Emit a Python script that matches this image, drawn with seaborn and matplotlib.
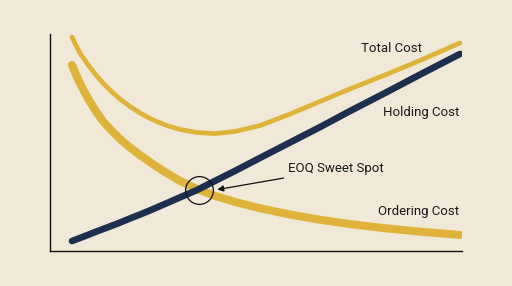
import matplotlib
matplotlib.use("Agg")
import matplotlib.pyplot as plt
import seaborn as sns

# Order quantity (arbitrary units, 0-100 scale)
quantity = [5.34, 6.31, 7.28, 8.50, 9.71, 11.17, 12.86, 14.81, 16.99, 19.42,
            21.84, 24.76, 27.91, 31.55, 35.68, 40.05, 44.90, 50.97, 58.25,
            65.53, 72.82, 81.31, 89.81, 99.51]
total_cost = [98.6, 94.7, 91.2, 87.8, 84.6, 81.1, 77.4, 73.7, 70.0, 66.6,
              63.6, 60.6, 58.1, 56.0, 54.6, 54.1, 55.1, 57.8, 63.1,
              68.9, 74.7, 81.1, 87.8, 95.9]
ordering_cost = [85.7, 81.3, 77.3, 72.8, 68.7, 64.3, 59.8, 55.8, 51.6, 47.7,
                 44.2, 40.3, 36.4, 32.3, 28.6, 25.4, 22.6, 19.7, 16.8,
                 14.4, 12.4, 10.5, 8.9, 7.4]
holding_cost = [4.6, 5.3, 6.0, 6.9, 7.8, 8.9, 10.1, 11.5, 13.1, 15.0,
                16.8, 19.1, 21.7, 24.7, 28.1, 32.3, 36.9, 42.9, 50.0,
                57.1, 64.5, 72.8, 81.3, 90.8]
eoq_point = (36.2, 28.1)

labels = ["Total Cost", "Holding Cost", "Ordering Cost"]
annotation = "EOQ Sweet Spot"

BG = "#F0E9D7"
GOLD = "#DFB23A"
NAVY = "#1C2F4F"
INK = "#1A1A1A"

sns.set_theme(style="white", rc={"figure.facecolor": BG, "axes.facecolor": BG})
plt.rcParams["font.family"] = ["Roboto", "DejaVu Sans"]

fig = plt.figure(figsize=(5.12, 2.86), dpi=100)
ax = fig.add_axes([50 / 512, 35 / 286, 412 / 512, 217 / 286])

sns.lineplot(x=quantity, y=total_cost, color=GOLD, linewidth=3.4, ax=ax,
             solid_capstyle="round", solid_joinstyle="round")
sns.lineplot(x=quantity, y=ordering_cost, color=GOLD, linewidth=5.8, ax=ax,
             solid_capstyle="round", solid_joinstyle="round")
sns.lineplot(x=quantity, y=holding_cost, color=NAVY, linewidth=4.8, ax=ax,
             solid_capstyle="round", solid_joinstyle="round")

ax.plot([eoq_point[0]], [eoq_point[1]], marker="o", markersize=20,
        markerfacecolor="none", markeredgecolor="#111111", markeredgewidth=0.9)

ax.annotate(annotation, xy=(40.6, 28.3), xytext=(57.8, 37.8),
            ha="left", va="center", fontsize=9.5, color=INK,
            arrowprops=dict(arrowstyle="-|>", color="#111111", lw=0.9,
                            shrinkA=1, shrinkB=0, mutation_scale=9))

ax.text(90.3, 93.5, labels[0], ha="right", va="center", fontsize=9.5, color=INK)
ax.text(99.3, 63.6, labels[1], ha="right", va="center", fontsize=9.5, color=INK)
ax.text(99.3, 18.4, labels[2], ha="right", va="center", fontsize=9.5, color=INK)

ax.set_xlim(0, 100)
ax.set_ylim(0, 100)
ax.set_xticks([])
ax.set_yticks([])
ax.set_xlabel("")
ax.set_ylabel("")
for side in ["top", "right"]:
    ax.spines[side].set_visible(False)
for side in ["left", "bottom"]:
    ax.spines[side].set_color("#111111")
    ax.spines[side].set_linewidth(1.0)

fig.savefig("out.png", dpi=100, facecolor=BG)
